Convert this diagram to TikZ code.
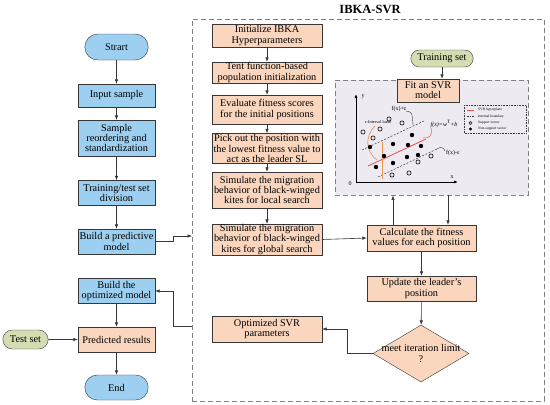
\documentclass[tikz,border=0pt]{standalone}
\usepackage{fontspec}
\setmainfont{Liberation Serif}
\usepackage{xcolor}
\usetikzlibrary{arrows.meta,shapes.geometric,shapes.misc}

\definecolor{skyfill}{RGB}{157,207,240}
\definecolor{peachfill}{RGB}{251,214,190}
\definecolor{olivefill}{RGB}{212,220,178}
\definecolor{lavfill}{RGB}{238,234,242}
\definecolor{linegray}{RGB}{55,55,55}
\definecolor{hyperred}{RGB}{232,80,80}
\definecolor{bandorange}{RGB}{240,150,80}

\begin{document}
\begin{tikzpicture}[
        x=1pt, y=-1pt,
        font=\fontsize{10.3}{10.2}\selectfont,
        every node/.style={align=center, inner xsep=0.8pt, inner ysep=0.5pt},
        leftbox/.style ={draw=linegray, fill=skyfill, minimum width=77pt, minimum height=25pt},
        stepbox/.style ={draw=linegray, fill=peachfill, minimum width=110pt},
        termbox/.style ={rounded rectangle, draw=linegray, fill=skyfill, minimum width=65pt, minimum height=26pt},
        setbox/.style  ={rounded rectangle, draw=linegray, fill=olivefill},
        decision/.style={diamond, draw=linegray, fill=peachfill, minimum width=96pt, minimum height=57pt, inner sep=0pt},
        frame/.style   ={draw=gray, dash pattern=on 5pt off 3pt, line width=0.9pt},
        panelbox/.style={draw=gray, fill=lavfill, dash pattern=on 5pt off 3pt, line width=0.9pt},
        flow/.style    ={-{Latex[length=4.5pt,width=3.5pt]}, line width=0.6pt, linegray},
        tinyfont/.style={font=\fontsize{3.6}{4}\selectfont, inner sep=0pt},
        plotfont/.style={font=\fontsize{6}{6}\selectfont, inner sep=0pt},
    ]
        \useasboundingbox (0,0) rectangle (550,405);

        % --- IBKA-SVR frame ---
        \node[frame, minimum width=352pt, minimum height=382pt] (frame) at (368,210) {};
        \node[font=\bfseries\fontsize{12.5}{13}\selectfont] (title) at (370,9) {IBKA-SVR};
        \coordinate (inport) at (192,236);
        \coordinate (outport) at (192,326);

        % --- Left column ---
        \node[termbox] (start) at (116.5,47) {Strart};
        \node[leftbox, minimum height=23pt] (input) at (116.5,95.5) {Input sample};
        \node[leftbox, minimum height=36pt] (reorder) at (116.5,138) {Sample\\reordering and\\standardization};
        \node[leftbox] (divide) at (116.5,193) {Training/test set\\division};
        \node[leftbox] (predict) at (116.5,241.5) {Build a predictive\\model};
        \node[leftbox] (optim) at (116.5,291) {Build the\\optimized model};
        \node[leftbox, fill=peachfill] (result) at (116.5,339.5) {Predicted results};
        \node[termbox, minimum height=25pt] (finish) at (116.5,387.5) {End};
        \node[setbox, minimum width=47pt, minimum height=19pt] (testset) at (25.5,339.5) {Test set};

        % --- IBKA steps ---
        \node[stepbox, minimum height=23pt] (init) at (267,35.5) {Initialize IBKA\\Hyperparameters};
        \node[stepbox, minimum height=21pt] (tent) at (267,72.5) {Tent function-based\\population initialization};
        \node[stepbox, minimum height=29pt] (evalfit) at (267,109.5) {Evaluate fitness scores\\for the initial positions};
        \node[stepbox, minimum height=30pt] (pick) at (267,148.5) {Pick out the position with\\the lowest fitness value to\\act as the leader SL};
        \node[stepbox, minimum height=36pt] (local) at (267,190) {Simulate the migration\\behavior of black-winged\\kites for local search};
        \node[stepbox, minimum height=29pt] (global) at (267,239.5) {Simulate the migration\\behavior of black-winged\\kites for global search};
        \node[stepbox, minimum height=26pt] (optsvr) at (267,329) {Optimized SVR\\parameters};

        % --- SVR fitting ---
        \node[setbox, minimum width=64pt, minimum height=17pt] (trainset) at (442,58.5) {Training set};
        \node[panelbox, minimum width=193pt, minimum height=115pt] (panel) at (431.5,137.5) {};
        \node[stepbox, minimum width=62pt, minimum height=23pt] (fitsvr) at (428,90.5) {Fit an SVR\\model};
        \node[stepbox, minimum width=109pt, minimum height=26pt] (calc) at (421.5,238) {Calculate the fitness\\values for each position};
        \node[stepbox, minimum width=109pt, minimum height=25pt] (update) at (421.5,288.5) {Update the leader's\\position};
        \node[decision] (decide) at (421,353.5) {\makebox[30pt]{meet iteration limit}\\?};

        % --- SVR sketch ---
        \draw[-{Latex[length=4pt,width=3pt]}, line width=0.7pt] (356,182) -- (356,94);
        \draw[-{Latex[length=4pt,width=3pt]}, line width=0.7pt] (356,182) -- (458,182);
        \node[plotfont] (orig) at (350,184) {0};
        \node[plotfont] (ylab) at (363,97) {y};
        \node[plotfont] (xlab) at (452,177) {x};
        \draw[linegray, line width=0.5pt, dash pattern=on 2pt off 1.5pt] (362,150) -- (424,121);
        \draw[linegray, line width=0.5pt, dash pattern=on 2pt off 1.5pt] (378,177) -- (437,149);
        \draw[hyperred, line width=0.8pt] (368,166) -- (426,139);
        \draw[hyperred, line width=0.5pt] (431,128) .. controls (433,135) and (429,139) .. (423,138);
        \draw[linegray, line width=0.4pt] (406,111) .. controls (412,112) .. (413,125);
        \draw[linegray, line width=0.4pt] (437,149) .. controls (441,146) and (444,148) .. (445,151);
        \draw[bandorange, line width=0.7pt] (375,126) .. controls (366,135) and (364,150) .. (377,160);
        \draw[bandorange, line width=0.7pt] (382,142) -- (382,179);
        \node[plotfont] (upper) at (399,109) {f(x)+ε};
        \node[plotfont] (lower) at (453,153) {f(x)-ε};
        \node[plotfont, font=\itshape\fontsize{6}{6}\selectfont] (hyper) at (444,124) {f(x)=w\textsuperscript{T}+b};
        \node[tinyfont, font=\fontsize{4.3}{5}\selectfont] (band) at (378,122) {ε-Interval band};
        \foreach \x/\y in {370/147, 384/156, 376/167, 393/144, 412/135, 408/145, 421/146, 407/157, 418/155, 393/163}
            \fill (\x,\y) circle[radius=2.2pt];
        \foreach \x/\y in {363/132, 380/129, 389/119, 402/123, 373/138, 418/162, 431/156, 392/175, 409/173}
            \draw[line width=0.6pt] (\x,\y) circle[radius=2.1pt];

        % --- Legend ---
        \draw[linegray, densely dotted, line width=0.6pt] (464,105) rectangle (526,133);
        \draw[hyperred, line width=0.6pt] (467,110) -- (474,110);
        \draw[linegray, line width=0.5pt, dash pattern=on 1.5pt off 1pt] (467,116.5) -- (474,116.5);
        \draw[line width=0.5pt] (470.5,123) circle[radius=1.6pt];
        \fill (470.5,129) circle[radius=1.7pt];
        \node[tinyfont, anchor=west] (leg1) at (478,110) {SVR hyperplane};
        \node[tinyfont, anchor=west] (leg2) at (478,116.5) {Internal boundary};
        \node[tinyfont, anchor=west] (leg3) at (478,123) {Support vector};
        \node[tinyfont, anchor=west] (leg4) at (478,129) {Non-support vector};

        % --- Arrows ---
        \draw[flow] (start) -- (input);
        \draw[flow] (input) -- (reorder);
        \draw[flow] (reorder) -- (divide);
        \draw[flow] (divide) -- (predict);
        \draw[flow] (optim) -- (result);
        \draw[flow] (result) -- (finish);
        \draw[flow] (testset) -- (result);
        \draw[flow] (predict.east) -- ++(18,0) |- (inport);
        \draw[flow] (outport) -- ++(-19,0) |- (optim.east);

        \draw[flow] (init) -- (tent);
        \draw[flow] (tent) -- (evalfit);
        \draw[flow] (evalfit) -- (pick);
        \draw[flow] (pick) -- (local);
        \draw[flow] (local) -- (global);
        \draw[flow] (global.east) -- (calc.west);

        \draw[flow] (trainset.south) -- (trainset.south |- fitsvr.north);
        \draw[flow] ([xshift=-28.5pt]calc.north) -- ([xshift=-28.5pt]calc.north |- panel.south);
        \draw[flow] ([xshift=26.5pt]calc.north |- panel.south) -- ([xshift=26.5pt]calc.north);
        \draw[flow] (calc) -- (update);
        \draw[flow] (update) -- (decide);
        \draw[flow] (decide.west) -- ++(-26,0) |- (optsvr.east);
    \end{tikzpicture}
\end{document}
